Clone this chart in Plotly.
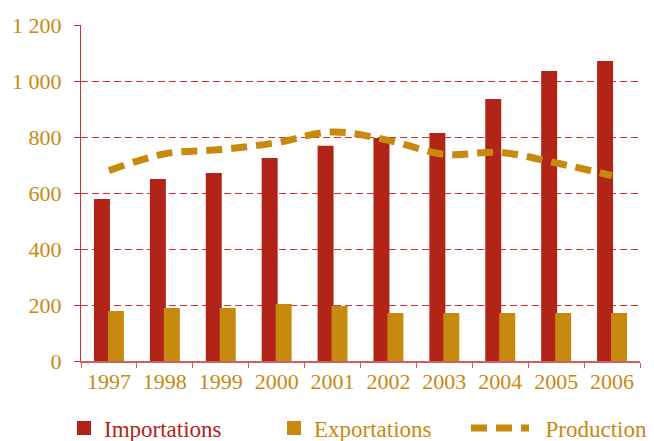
import plotly.graph_objects as go

years = ["1997", "1998", "1999", "2000", "2001", "2002", "2003", "2004", "2005", "2006"]
importations = [575, 646, 668, 721, 765, 793, 811, 932, 1032, 1068]
exportations = [175, 186, 186, 200, 193, 168, 168, 168, 168, 168]
production = [680, 740, 755, 780, 818, 788, 738, 745, 707, 662]

red = "#B22418"
gold = "#C8890F"
font = "Liberation Serif"

fig = go.Figure()
fig.add_trace(go.Bar(x=years, y=importations, marker=dict(color=red, line=dict(color=red, width=2)),
                     name="<span style='color:#B22418'>Importations</span>", legend="legend"))
fig.add_trace(go.Bar(x=years, y=exportations, marker=dict(color=gold, line=dict(color=gold, width=2)),
                     name="Exportations", legend="legend2"))
fig.add_trace(go.Scatter(x=years, y=production, mode="lines", name="&nbsp;&nbsp;Production",
                         line=dict(color=gold, width=7, dash="16px,9px", shape="spline"),
                         legend="legend3"))

leg = dict(orientation="h", xref="container", yref="container", yanchor="middle",
           y=1 - 428 / 441, bgcolor="rgba(0,0,0,0)", font=dict(family=font, size=23, color=gold))

fig.update_layout(
    width=654, height=441,
    margin=dict(l=79, r=14, t=25, b=80),
    paper_bgcolor="white", plot_bgcolor="white",
    barmode="group", bargap=0.5, bargroupgap=0,
    separators=", ",
    font=dict(family=font, size=22, color=gold),
    showlegend=True,
    legend=dict(leg, x=64 / 654),
    legend2=dict(leg, x=274 / 654),
    legend3=dict(leg, x=466 / 654, itemwidth=58),
)
fig.update_xaxes(type="category", tickson="boundaries", ticks="outside", ticklen=5,
                 tickcolor="#D06060", showline=True, linecolor="#D06060", linewidth=2,
                 showgrid=False, tickfont=dict(family=font, size=22, color=gold))
fig.update_yaxes(range=[0, 1200], dtick=200, separatethousands=True, ticks="outside",
                 ticklen=6, tickcolor="#C43A3A", showline=True, linecolor="#C43A3A",
                 linewidth=1, showgrid=True, gridcolor="#D83030", griddash="7px,4px",
                 gridwidth=1, zeroline=False, ticklabelstandoff=8,
                 tickfont=dict(family=font, size=22, color=gold))

fig.write_html("out.html", config={"displayModeBar": False},
               post_script="document.body.style.margin='0';")
